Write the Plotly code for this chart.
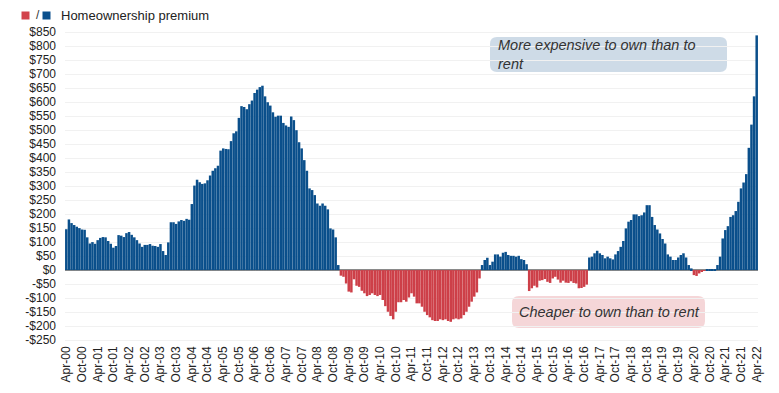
import plotly.graph_objects as go
import pandas as pd

# ---- data ----
start_month = "2000-04-01"
premium = [
    146, 181, 168, 161, 155, 150, 145, 144, 117, 95, 100, 94, 107, 115, 118, 117, 104, 94, 80, 86,
    125, 123, 118, 132, 136, 126, 117, 107, 95, 83, 90, 90, 93, 87, 86, 83, 93, 68, 54, 99,
    171, 171, 165, 174, 179, 176, 183, 180, 236, 302, 323, 314, 308, 310, 321, 338, 355, 364, 373, 427,
    435, 433, 432, 461, 489, 496, 544, 586, 583, 575, 593, 606, 633, 645, 654, 659, 621, 600, 588, 564,
    548, 552, 552, 526, 517, 512, 549, 536, 500, 457, 435, 393, 355, 292, 286, 268, 238, 230, 238, 230,
    217, 149, 145, 117, 18,
    -20, -24, -48, -77, -80, -33, -56, -60, -74, -83, -93, -89, -83, -89, -93, -89, -107, -129, -149, -164,
    -176, -149, -115, -115, -107, -113, -98, -83, -95, -119, -119, -131, -149, -161, -169, -179, -182, -182, -176, -179,
    -176, -182, -185, -176, -173, -176, -173, -161, -149, -131, -113, -95, -80, -30,
    18, 36, 44, 18, 30, 56, 56, 48, 62, 65, 54, 51, 51, 48, 51, 39, 36, 21,
    -75, -65, -56, -62, -38, -36, -32, -42, -46, -30, -24, -34, -45, -38, -45, -46, -40, -46, -48, -65,
    -64, -60, -52,
    45, 48, 60, 69, 60, 54, 42, 48, 42, 38, 56, 68, 83, 104, 149, 173, 179, 199, 199, 193,
    196, 206, 232, 232, 190, 161, 145, 131, 111, 95, 56, 48, 36, 36, 45, 54, 60, 45, 18, 6,
    -18, -21, -12, -6, -3, 1, 2, 2, 3,
    18, 48, 113, 143, 157, 190, 196, 211, 244, 292, 313, 343, 437, 520, 621, 839,
]
months = pd.date_range(start_month, periods=len(premium), freq="MS").strftime("%b-%y").tolist()
tick_labels = months[::6]
y_ticks = list(range(-250, 851, 50))
y_tick_labels = [("-$" if v < 0 else "$") + str(abs(v)) for v in y_ticks]

title_text = "Homeownership premium"
note_up = "More expensive to own than to<br>rent"
note_down = "Cheaper to own than to rent"

BLUE = "#0a4f8b"
RED = "#cd3f48"

# ---- layout geometry (pixels) ----
W_FIG, H_FIG = 779, 393
ML, MR, MT, MB = 65, 21, 30, 50
PW, PH = W_FIG - ML - MR, H_FIG - MT - MB


def px_x(p):
    return (p - ML) / PW


def px_y(p):
    return (H_FIG - MB - p) / PH


def rounded_box(x0, y0, x1, y1, r=7):
    ax0, ax1 = px_x(x0), px_x(x1)
    ay0, ay1 = px_y(y1), px_y(y0)
    rx, ry = r / PW, r / PH
    return (
        f"M {ax0+rx},{ay0} L {ax1-rx},{ay0} Q {ax1},{ay0} {ax1},{ay0+ry} "
        f"L {ax1},{ay1-ry} Q {ax1},{ay1} {ax1-rx},{ay1} "
        f"L {ax0+rx},{ay1} Q {ax0},{ay1} {ax0},{ay1-ry} "
        f"L {ax0},{ay0+ry} Q {ax0},{ay0} {ax0+rx},{ay0} Z"
    )


colors = [BLUE if v >= 0 else RED for v in premium]

fig = go.Figure(
    go.Bar(
        x=months,
        y=premium,
        marker=dict(color=colors, line=dict(width=0)),
        hoverinfo="x+y",
    )
)

fig.update_layout(
    width=W_FIG,
    height=H_FIG,
    margin=dict(l=ML, r=MR, t=MT, b=MB, autoexpand=False),
    paper_bgcolor="white",
    plot_bgcolor="white",
    bargap=0.04,
    showlegend=False,
    font=dict(family="Liberation Sans, Arial, sans-serif", size=12, color="#222"),
    xaxis=dict(
        type="category",
        range=[-0.5, len(premium) - 0.5],
        tickmode="array",
        tickvals=tick_labels,
        ticktext=tick_labels,
        tickangle=-90,
        showgrid=False,
        showline=False,
        zeroline=False,
        ticks="",
        tickfont=dict(size=12, color="#222"),
        automargin=False,
    ),
    yaxis=dict(
        range=[-260.7, 858.2],
        tickmode="array",
        tickvals=y_ticks,
        ticktext=y_tick_labels,
        showgrid=True,
        gridcolor="#f1f1f1",
        gridwidth=1,
        zeroline=True,
        zerolinecolor="#8a8a8a",
        zerolinewidth=1.5,
        showline=False,
        ticks="",
        ticklabelstandoff=8,
        tickfont=dict(size=12, color="#222"),
        automargin=False,
    ),
    shapes=[
        dict(type="path", xref="paper", yref="paper", path=rounded_box(490, 37, 727, 72),
             fillcolor="#cedbe7", line=dict(width=0), layer="below"),
        dict(type="path", xref="paper", yref="paper", path=rounded_box(512, 296, 705, 328),
             fillcolor="#f5d6d8", line=dict(width=0), layer="below"),
        dict(type="rect", xref="paper", yref="paper",
             x0=px_x(21.5), x1=px_x(29.5), y0=px_y(19.5), y1=px_y(11.5),
             fillcolor="#d2434c", line=dict(width=0)),
        dict(type="rect", xref="paper", yref="paper",
             x0=px_x(42.5), x1=px_x(50.5), y0=px_y(19.5), y1=px_y(11.5),
             fillcolor="#0b4f8c", line=dict(width=0)),
    ],
    annotations=[
        dict(xref="paper", yref="paper", x=px_x(34), y=px_y(15.5), text="/", showarrow=False,
             xanchor="left", yanchor="middle", font=dict(size=12, color="#333")),
        dict(xref="paper", yref="paper", x=px_x(59), y=px_y(15.5), text=title_text, showarrow=False,
             xanchor="left", yanchor="middle", font=dict(size=13, color="#222")),
        dict(xref="paper", yref="paper", x=px_x(496), y=px_y(54.5), text=f"<i>{note_up}</i>",
             showarrow=False, xanchor="left", yanchor="middle", align="left",
             font=dict(size=14.5, color="#333")),
        dict(xref="paper", yref="paper", x=px_x(609), y=px_y(312), text=f"<i>{note_down}</i>",
             showarrow=False, xanchor="center", yanchor="middle",
             font=dict(size=14.5, color="#333")),
    ],
)

fig.write_html(
    "out.html",
    config={"displayModeBar": False},
    post_script="document.body.style.margin='0';document.body.style.padding='0';",
)
